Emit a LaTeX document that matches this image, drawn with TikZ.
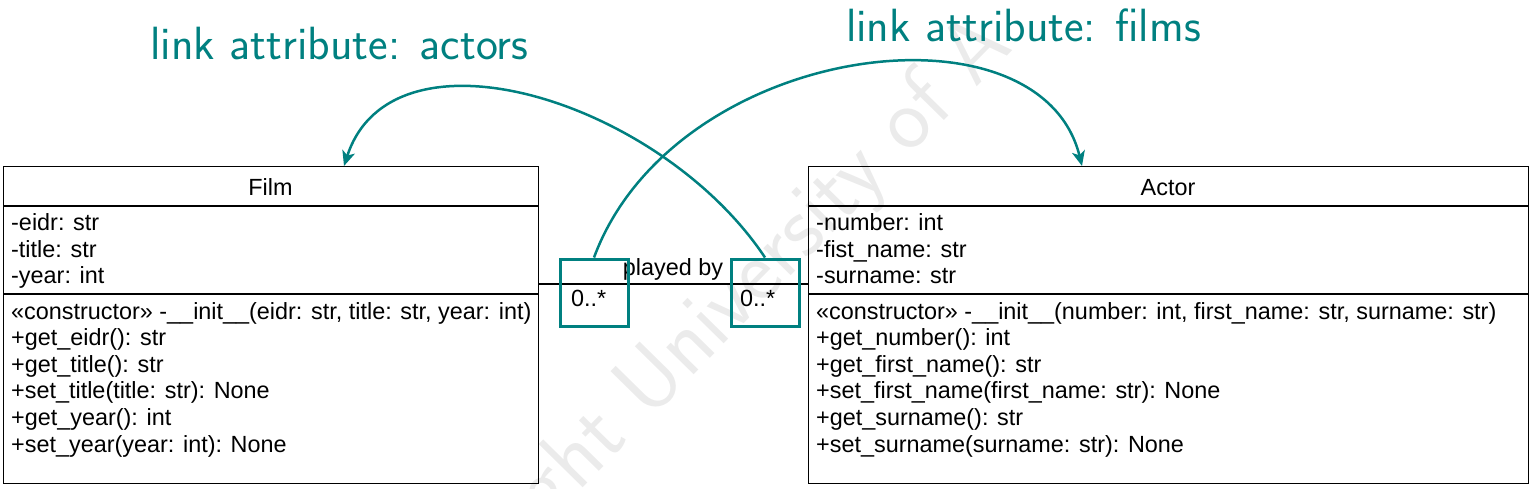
\documentclass[tikz,border=0pt]{standalone}
\usepackage{fontspec}
\setmainfont{Liberation Sans}
\usetikzlibrary{arrows.meta}
\definecolor{tealc}{RGB}{0,128,128}
\begin{document}
\begin{tikzpicture}[x=1pt,y=-1pt,
  classbox/.style={draw=black, line width=1.3pt, anchor=north west, inner sep=0pt, minimum width=#1, minimum height=317pt},
  sepline/.style={draw=black, line width=1.3pt},
  txt/.style={anchor=base west, inner sep=0pt, font=\fontsize{23.4}{26.6}\selectfont},
  ctxt/.style={anchor=base, inner sep=0pt, font=\fontsize{23.4}{26.6}\selectfont},
  multbox/.style={draw=tealc, line width=3pt, inner sep=0pt, minimum width=68pt, minimum height=67pt},
  linkarrow/.style={draw=tealc, line width=2.5pt, -{Stealth[length=15pt,width=13pt,inset=4pt]}},
  linklabel/.style={text=tealc, anchor=base, inner sep=0pt, font=\fontsize{46.6}{52}\selectfont\sffamily},
  watermark/.style={text=black!8, inner sep=0pt, font=\fontsize{89}{92}\selectfont\sffamily}
]
\useasboundingbox (0,0) rectangle (1530,488);
\begin{scope}
\clip (0,0) rectangle (1530,488);
\node[watermark, rotate=45.5] (wm) at (766,270) {ght University of A};
\end{scope}

% Film class
\node[classbox=535pt] (film) at (3,166) {};
\draw[sepline] (film.west |- 0,206) -- (film.east |- 0,206);
\draw[sepline] (film.west |- 0,294) -- (film.east |- 0,294);
\node[ctxt] (filmname) at (270.5,195) {Film};
\node[txt] (fa1) at (11,230.5) {-eidr: str};
\node[txt] (fa2) at (11,257) {-title: str};
\node[txt] (fa3) at (11,283.5) {-year: int};
\node[txt] (fm1) at (11,319) {«constructor» -\_\_init\_\_(eidr: str, title: str, year: int)};
\node[txt] (fm2) at (11,345.6) {+get\_eidr(): str};
\node[txt] (fm3) at (11,372.2) {+get\_title(): str};
\node[txt] (fm4) at (11,398.8) {+set\_title(title: str): None};
\node[txt] (fm5) at (11,425.4) {+get\_year(): int};
\node[txt] (fm6) at (11,452) {+set\_year(year: int): None};

% Actor class
\node[classbox=720pt] (actor) at (808,166) {};
\draw[sepline] (actor.west |- 0,206) -- (actor.east |- 0,206);
\draw[sepline] (actor.west |- 0,294) -- (actor.east |- 0,294);
\node[ctxt] (actorname) at (1168,195) {Actor};
\node[txt] (aa1) at (816,230.5) {-number: int};
\node[txt] (aa2) at (816,257) {-fist\_name: str};
\node[txt] (aa3) at (816,283.5) {-surname: str};
\node[txt] (am1) at (816,319) {«constructor» -\_\_init\_\_(number: int, first\_name: str, surname: str)};
\node[txt] (am2) at (816,345.6) {+get\_number(): int};
\node[txt] (am3) at (816,372.2) {+get\_first\_name(): str};
\node[txt] (am4) at (816,398.8) {+set\_first\_name(first\_name: str): None};
\node[txt] (am5) at (816,425.4) {+get\_surname(): str};
\node[txt] (am6) at (816,452) {+set\_surname(surname: str): None};

% association
\coordinate (assocL) at (film.east |- 0,284);
\coordinate (assocR) at (actor.west |- 0,284);
\draw[black, line width=1.3pt] (assocL) -- (assocR);
\node[ctxt] (played) at (673,275) {played by};

% multiplicity boxes
\node[multbox] (mL) at (594,292.5) {};
\node[multbox] (mR) at (765,292.5) {};
\node[txt] (mLt) at (571,306) {0..*};
\node[txt] (mRt) at (740,306) {0..*};

% link attribute arrows
\coordinate (filmsTip) at (1082,166);
\coordinate (actorsTip) at (344,166);
\draw[linkarrow] (mL.north) .. controls (674,42) and (1040,-5) .. (filmsTip);
\draw[linkarrow] (mR.north) .. controls (660,100) and (392,18) .. (actorsTip);

\node[linklabel] (lactors) at (339.5,59) {link attribute: actors};
\node[linklabel] (lfilms) at (1023.5,41) {link attribute: films};
\end{tikzpicture}
\end{document}
